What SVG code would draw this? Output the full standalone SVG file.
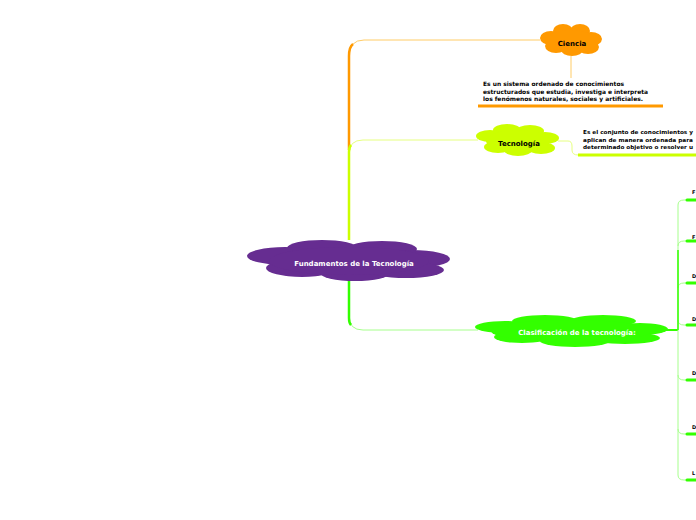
<svg xmlns="http://www.w3.org/2000/svg" width="696" height="520" viewBox="0 0 696 520">
<style>
.t{font-family:"DejaVu Sans",Verdana,sans-serif;font-weight:bold}
.lbl{font-size:7px}
.desc{font-size:6px;fill:#000}
.desc2{font-size:5.4px;fill:#000}
.tiny{font-size:5px;fill:#000}
.thin{fill:none;stroke-width:1}
.bar{fill:none;stroke:#33ff00;stroke-width:3;stroke-linecap:round}
.br{fill:none;stroke:#a6ff8c;stroke-width:1}
</style>
<rect width="696" height="520" fill="#ffffff"/>
<g id="connectors">
  <!-- Ciencia branch -->
  <path d="M349,57 Q349,40 364,40 H540" class="thin" stroke="#ffcc66" stroke-width="1.2"/>
  <path d="M349,150 V56 Q349,47 353,44" stroke="#ff9900" stroke-width="2.5" fill="none"/>
  <!-- Tecnologia branch -->
  <path d="M349,154 Q349,140 363,140 H478" class="thin" stroke="#e6ff80"/>
  <path d="M349,240 V152 Q349,147 351,145" stroke="#ccff00" stroke-width="2.5" fill="none"/>
  <!-- Clasificacion branch -->
  <path d="M349,316 Q349,330 363,330 H478" class="thin" stroke="#a6ff8c" stroke-width="1.2"/>
  <path d="M349,280 V318 Q349,323 351,325" stroke="#33ff00" stroke-width="2.5" fill="none"/>
  <!-- Ciencia to description -->
  <path d="M571,56 V78" class="thin" stroke="#ffcc66"/>
  <path d="M478,106 H663" stroke="#ff9900" stroke-width="3" fill="none"/>
  <!-- Tecnologia to description -->
  <path d="M558,141 H568 Q572,141 572,146 V150 Q572,155 578,155" class="thin" stroke="#e6ff80"/>
  <path d="M578,155 H700" stroke="#ccff00" stroke-width="3" fill="none"/>
  <!-- Clasificacion children -->
  <path d="M666,330 H678" stroke="#33ff00" stroke-width="2" fill="none"/>
  <path d="M678,330 V205 Q678,200 684,200 H687" class="br"/>
  <path d="M678,246 Q678,241 684,241 H687" class="br"/>
  <path d="M678,288 Q678,283 684,283 H687" class="br"/>
  <path d="M678,320 Q678,325 684,325 H687" class="br"/>
  <path d="M678,330 V375 Q678,380 684,380 H687" class="br"/>
  <path d="M678,375 V429 Q678,434 684,434 H687" class="br"/>
  <path d="M678,429 V475 Q678,480 684,480 H687" class="br"/>
  <path d="M678,250 V330" stroke="#33ff00" stroke-width="1.5" fill="none"/>
  <path d="M687,200 H696" class="bar"/>
  <path d="M687,241 H696" class="bar"/>
  <path d="M687,283 H696" class="bar"/>
  <path d="M687,325 H696" class="bar"/>
  <path d="M687,380 H696" class="bar"/>
  <path d="M687,434 H696" class="bar"/>
  <path d="M687,480 H696" class="bar"/>
</g>
<g id="central" fill="#662d91">
  <ellipse cx="322" cy="248" rx="35" ry="8"/>
  <ellipse cx="382" cy="249" rx="35" ry="8"/>
  <ellipse cx="285" cy="256" rx="38" ry="9"/>
  <ellipse cx="412" cy="259" rx="38" ry="9"/>
  <ellipse cx="302" cy="268" rx="36" ry="9"/>
  <ellipse cx="355" cy="273" rx="35" ry="8"/>
  <ellipse cx="406" cy="270" rx="38" ry="8"/>
  <ellipse cx="349" cy="261" rx="80" ry="14"/>
  <text x="354" y="266" text-anchor="middle" class="t lbl" fill="#ffffff">Fundamentos de la Tecnología</text>
</g>
<g id="ciencia" fill="#ff9900">
  <ellipse cx="563" cy="31" rx="10" ry="7"/>
  <ellipse cx="580" cy="31" rx="10" ry="7"/>
  <ellipse cx="551" cy="38" rx="11" ry="7"/>
  <ellipse cx="591" cy="39" rx="11" ry="7"/>
  <ellipse cx="556" cy="46" rx="11" ry="7"/>
  <ellipse cx="572" cy="50" rx="11" ry="6"/>
  <ellipse cx="588" cy="47" rx="11" ry="7"/>
  <ellipse cx="571" cy="41" rx="24" ry="11"/>
  <text x="572" y="46" text-anchor="middle" class="t lbl" fill="#000000">Ciencia</text>
</g>
<g id="ciencia-desc">
  <text x="483" y="86" class="t desc" textLength="141" lengthAdjust="spacingAndGlyphs">Es un sistema ordenado de conocimientos</text>
  <text x="483" y="93.5" class="t desc" textLength="165" lengthAdjust="spacingAndGlyphs">estructurados que estudia, investiga e interpreta</text>
  <text x="483" y="101" class="t desc" textLength="160" lengthAdjust="spacingAndGlyphs">los fenómenos naturales, sociales y artificiales.</text>
</g>
<g id="tecnologia" fill="#ccff00">
  <ellipse cx="507" cy="130" rx="14" ry="6"/>
  <ellipse cx="530" cy="131" rx="14" ry="6"/>
  <ellipse cx="490" cy="136" rx="14" ry="6"/>
  <ellipse cx="545" cy="138" rx="14" ry="6"/>
  <ellipse cx="498" cy="147" rx="14" ry="6"/>
  <ellipse cx="518" cy="150" rx="14" ry="6"/>
  <ellipse cx="541" cy="148" rx="14" ry="6"/>
  <ellipse cx="518" cy="141" rx="32" ry="11"/>
  <text x="519" y="146" text-anchor="middle" class="t lbl" fill="#000000">Tecnología</text>
</g>
<g id="tecnologia-desc">
  <text x="583" y="134" class="t desc2" textLength="110" lengthAdjust="spacingAndGlyphs">Es el conjunto de conocimientos y</text>
  <text x="583" y="141.5" class="t desc2" textLength="110" lengthAdjust="spacingAndGlyphs">aplican de manera ordenada para</text>
  <text x="583" y="149" class="t desc2" textLength="110" lengthAdjust="spacingAndGlyphs">determinado objetivo o resolver u</text>
</g>
<g id="clasificacion" fill="#33ff00">
  <ellipse cx="545" cy="321" rx="33" ry="6"/>
  <ellipse cx="603" cy="321" rx="33" ry="6"/>
  <ellipse cx="505" cy="327" rx="30" ry="6"/>
  <ellipse cx="640" cy="329" rx="28" ry="6"/>
  <ellipse cx="522" cy="337" rx="28" ry="6"/>
  <ellipse cx="575" cy="341" rx="35" ry="6"/>
  <ellipse cx="625" cy="338" rx="35" ry="6"/>
  <ellipse cx="571" cy="331" rx="80" ry="11"/>
  <text x="577" y="335" text-anchor="middle" class="t lbl" fill="#ffffff">Clasificación de la tecnología:</text>
</g>
<g id="children">
  <text x="692" y="194" class="t tiny">F</text>
  <text x="692" y="239" class="t tiny">F</text>
  <text x="692" y="278" class="t tiny">D</text>
  <text x="692" y="321" class="t tiny">D</text>
  <text x="692" y="375" class="t tiny">D</text>
  <text x="692" y="429" class="t tiny">D</text>
  <text x="692" y="475" class="t tiny">L</text>
</g>
</svg>
